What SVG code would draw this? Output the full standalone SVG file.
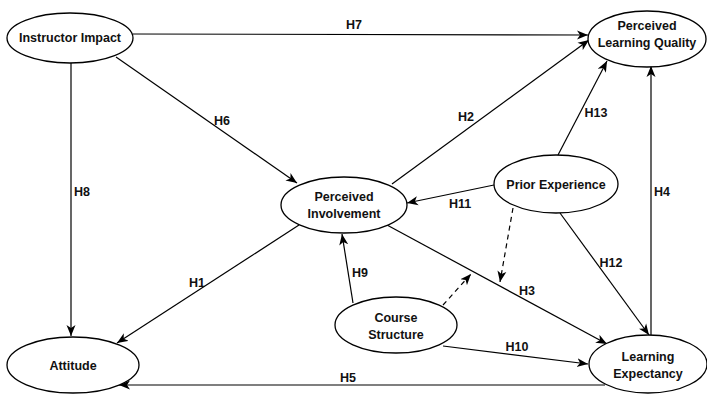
<svg xmlns="http://www.w3.org/2000/svg" width="707" height="394" viewBox="0 0 707 394">
<style>
.node ellipse{fill:#fff;stroke:#000;stroke-width:1.3}
text{font-family:"Liberation Sans",Arial,sans-serif;font-weight:bold;font-size:12.5px;fill:#111;text-anchor:middle}
.edge{stroke:#000;stroke-width:1.2;fill:none;marker-end:url(#arr)}
.dash{stroke-dasharray:5,4}
</style>
<defs>
<marker id="arr" viewBox="0 0 12 10" refX="11" refY="5" markerWidth="12" markerHeight="10" markerUnits="userSpaceOnUse" orient="auto">
<path d="M0,0.5 L11,5 L0,9.5 L3,5 z" fill="#000"/>
</marker>
</defs>
<rect width="707" height="394" fill="#fff"/>
<g id="connectors">
<line class="edge" x1="133" y1="34" x2="588" y2="35"/>
<line class="edge" x1="71" y1="63" x2="71" y2="336"/>
<line class="edge" x1="116" y1="57" x2="297" y2="183"/>
<line class="edge" x1="392" y1="184" x2="589" y2="40"/>
<line class="edge" x1="558" y1="155" x2="607" y2="61"/>
<line class="edge" x1="651" y1="335" x2="651" y2="66"/>
<line class="edge" x1="494" y1="185" x2="407" y2="203"/>
<line class="edge" x1="560" y1="213" x2="649" y2="335"/>
<line class="edge" x1="387" y1="225" x2="607" y2="344"/>
<line class="edge" x1="299" y1="225" x2="117" y2="343"/>
<line class="edge" x1="353" y1="303" x2="342" y2="234"/>
<line class="edge" x1="443" y1="346" x2="588" y2="364"/>
<line class="edge" x1="605" y1="385" x2="119" y2="385"/>
<line class="edge dash" x1="513" y1="208" x2="500" y2="282"/>
<line class="edge dash" x1="443" y1="305" x2="471" y2="274"/>
<text x="354" y="29">H7</text>
<text x="82" y="196">H8</text>
<text x="222" y="125">H6</text>
<text x="466" y="121">H2</text>
<text x="596" y="117">H13</text>
<text x="662" y="196">H4</text>
<text x="460" y="208">H11</text>
<text x="611" y="267">H12</text>
<text x="527" y="295">H3</text>
<text x="197" y="287">H1</text>
<text x="360" y="277">H9</text>
<text x="517" y="351">H10</text>
<text x="348" y="382">H5</text>
</g>
<g id="instructor-impact" class="node"><ellipse cx="70" cy="38" rx="63" ry="25"/><text x="70" y="42">Instructor Impact</text></g>
<g id="perceived-learning-quality" class="node"><ellipse cx="647" cy="39" rx="59" ry="28"/><text x="647" y="30">Perceived</text><text x="647" y="47">Learning Quality</text></g>
<g id="perceived-involvement" class="node"><ellipse cx="344" cy="205" rx="63" ry="28"/><text x="344" y="201">Perceived</text><text x="344" y="218">Involvement</text></g>
<g id="prior-experience" class="node"><ellipse cx="556" cy="184" rx="62" ry="29"/><text x="556" y="189">Prior Experience</text></g>
<g id="course-structure" class="node"><ellipse cx="396" cy="325" rx="61" ry="28"/><text x="396" y="322">Course</text><text x="396" y="339">Structure</text></g>
<g id="learning-expectancy" class="node"><ellipse cx="648" cy="364" rx="59" ry="29"/><text x="648" y="361">Learning</text><text x="648" y="378">Expectancy</text></g>
<g id="attitude" class="node"><ellipse cx="73" cy="365" rx="66" ry="28"/><text x="73" y="370">Attitude</text></g>
</svg>
